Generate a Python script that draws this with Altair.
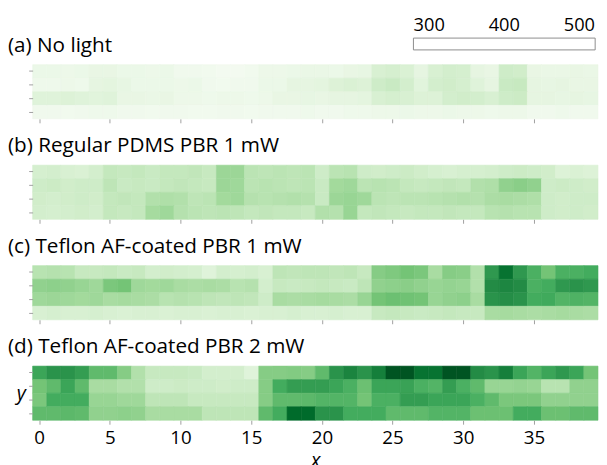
import altair as alt
import pandas as pd

# ---------------- data ----------------
x_cols = list(range(40))
row_ids = [0, 1, 2, 3]  # top row first
x_ticks = [0, 5, 10, 15, 20, 25, 30, 35]
titles = [
    "(a) No light",
    "(b) Regular PDMS PBR 1 mW",
    "(c) Teflon AF-coated PBR 1 mW",
    "(d) Teflon AF-coated PBR 2 mW",
]
cbar_ticks = [300, 400, 500]
cbar_span = [279, 521]

panel_a = [
    [8, 8, 7, 8, 10, 10, 8, 8, 7, 8, 5, 5, 4, 3, 3, 4, 7, 7, 8, 9,
     9, 8, 10, 11, 18, 19, 17, 12, 18, 20, 19, 12, 10, 22, 21, 10, 9, 9, 10, 9],
    [6, 6, 7, 6, 12, 13, 11, 8, 8, 8, 7, 8, 5, 4, 5, 5, 8, 8, 12, 12,
     13, 16, 17, 16, 22, 24, 20, 14, 20, 21, 19, 15, 12, 24, 25, 12, 11, 12, 10, 10],
    [15, 15, 16, 15, 14, 15, 10, 10, 9, 10, 7, 7, 6, 7, 7, 6, 7, 10, 10, 11,
     10, 12, 12, 13, 18, 19, 18, 16, 16, 20, 21, 20, 18, 22, 23, 12, 12, 11, 12, 11],
    [5, 5, 4, 5, 6, 6, 5, 5, 4, 5, 5, 4, 4, 5, 5, 4, 5, 5, 5, 6,
     5, 5, 6, 6, 7, 7, 8, 7, 7, 8, 7, 7, 6, 7, 7, 5, 5, 6, 5, 5],
]
panel_b = [
    [19, 20, 18, 17, 20, 26, 25, 26, 24, 26, 26, 27, 25, 39, 39, 29, 28, 29, 28, 29,
     22, 29, 30, 22, 21, 22, 23, 21, 19, 18, 19, 19, 20, 22, 23, 22, 21, 16, 17, 16],
    [22, 23, 21, 22, 22, 28, 24, 25, 24, 26, 27, 26, 25, 39, 38, 29, 30, 29, 28, 29,
     24, 37, 38, 29, 30, 29, 26, 25, 26, 27, 26, 32, 33, 42, 44, 42, 22, 23, 22, 21],
    [21, 20, 21, 22, 21, 26, 27, 26, 32, 33, 32, 28, 29, 37, 38, 31, 30, 31, 32, 31,
     24, 39, 40, 38, 29, 28, 29, 29, 30, 31, 32, 31, 34, 35, 34, 33, 22, 21, 22, 22],
    [20, 19, 20, 21, 20, 26, 25, 26, 36, 38, 31, 29, 28, 29, 28, 26, 27, 26, 26, 25,
     32, 31, 40, 26, 27, 26, 25, 26, 26, 27, 26, 26, 30, 31, 30, 30, 22, 21, 22, 21],
]
panel_c = [
    [30, 31, 30, 25, 25, 26, 24, 25, 20, 21, 20, 19, 15, 20, 19, 20, 18, 28, 27, 28,
     28, 27, 28, 25, 45, 47, 50, 48, 35, 45, 44, 32, 70, 85, 70, 60, 50, 60, 60, 62],
    [42, 43, 42, 40, 38, 48, 50, 38, 37, 38, 35, 34, 35, 34, 30, 31, 20, 25, 24, 25,
     26, 25, 24, 28, 42, 43, 44, 42, 40, 41, 40, 32, 75, 77, 75, 60, 62, 70, 72, 70],
    [38, 39, 38, 37, 38, 35, 36, 35, 34, 30, 31, 30, 28, 27, 28, 27, 22, 35, 34, 35,
     36, 35, 34, 40, 50, 52, 51, 50, 40, 42, 43, 35, 72, 74, 72, 62, 63, 58, 59, 58],
    [18, 19, 18, 18, 19, 18, 17, 18, 18, 17, 18, 18, 17, 18, 18, 17, 18, 18, 19, 18,
     18, 19, 18, 18, 25, 26, 25, 24, 25, 26, 25, 25, 35, 36, 35, 34, 35, 36, 35, 34],
]
panel_d = [
    [65, 72, 72, 68, 55, 55, 45, 32, 25, 25, 25, 24, 20, 20, 20, 15, 45, 45, 46, 45,
     55, 72, 78, 72, 80, 95, 95, 85, 85, 95, 95, 75, 72, 80, 65, 58, 65, 70, 65, 50],
    [50, 55, 65, 55, 35, 35, 32, 32, 22, 22, 23, 22, 22, 21, 22, 22, 45, 62, 68, 68,
     68, 65, 60, 52, 65, 65, 66, 60, 58, 68, 60, 55, 40, 40, 41, 40, 30, 30, 42, 42],
    [48, 62, 62, 62, 40, 40, 38, 38, 28, 28, 28, 25, 25, 25, 25, 25, 45, 55, 55, 56,
     58, 58, 58, 50, 60, 60, 68, 68, 65, 65, 65, 60, 55, 48, 48, 48, 42, 42, 42, 42],
    [55, 55, 56, 55, 42, 42, 43, 42, 35, 35, 35, 35, 28, 28, 28, 28, 55, 62, 88, 88,
     72, 72, 62, 62, 62, 55, 55, 55, 58, 58, 58, 52, 52, 52, 62, 62, 52, 52, 55, 55],
]
panels = [panel_a, panel_b, panel_c, panel_d]

# ---------------- styling ----------------
FONT = "Open Sans"
W, H = 574, 55
green_stops = [0, 12.5, 25, 37.5, 50, 62.5, 75, 87.5, 100]
green_colors = ["#f7fcf5", "#e5f5e0", "#c7e9c0", "#a1d99b", "#74c476",
                "#41ab5d", "#238b45", "#006d2c", "#00441b"]
color_scale = alt.Scale(domain=green_stops, range=green_colors, interpolate="rgb")


def long_table(panel):
    rows = []
    for r, vals in zip(row_ids, panel):
        for c, v in zip(x_cols, vals):
            rows.append({"col": c, "row": r, "value": v})
    return pd.DataFrame(rows)


def heat(panel, last):
    x_axis = alt.Axis(
        values=x_ticks, labelAngle=0, labels=last, ticks=True,
        title="x" if last else None, titlePadding=3,
    )
    y_axis = alt.Axis(
        labels=False, ticks=True, title="y" if last else None,
        titleAngle=0, titleAlign="right", titleBaseline="middle",
        titlePadding=3,
    )
    return alt.Chart(long_table(panel)).mark_rect().encode(
        x=alt.X("col:O", axis=x_axis, scale=alt.Scale(paddingInner=0, paddingOuter=0)),
        y=alt.Y("row:O", axis=y_axis, scale=alt.Scale(paddingInner=0, paddingOuter=0)),
        color=alt.Color("value:Q", scale=color_scale, legend=None),
        stroke=alt.Stroke("value:Q", scale=color_scale, legend=None),
        strokeWidth=alt.value(0.6),
    )


def title_mark(text):
    return alt.Chart(pd.DataFrame({"t": [text]})).mark_text(
        align="left", baseline="alphabetic", font=FONT, fontSize=21, color="black"
    ).encode(text="t:N", x=alt.value(-25), y=alt.value(-13))


cbar_scale = alt.Scale(domain=[-228.1, 524.8], nice=False, zero=False)
cbar_rect = alt.Chart(pd.DataFrame({"lo": [cbar_span[0]], "hi": [cbar_span[1]]})).mark_rect(
    fill="white", stroke="#8c8c8c", strokeWidth=1
).encode(
    x=alt.X("lo:Q", scale=cbar_scale, axis=None),
    x2="hi:Q",
    y=alt.value(-27),
    y2=alt.value(-15),
)
cbar_text = alt.Chart(pd.DataFrame({"v": cbar_ticks})).mark_text(
    font=FONT, fontSize=18.5, color="black", baseline="middle"
).encode(
    x=alt.X("v:Q", scale=cbar_scale, axis=None),
    text=alt.Text("v:Q"),
    y=alt.value(-40),
)
cbar = alt.layer(cbar_rect, cbar_text)

charts = []
for i, (panel, t) in enumerate(zip(panels, titles)):
    last = i == len(panels) - 1
    layers = [heat(panel, last), title_mark(t)]
    if i == 0:
        ch = alt.layer(*layers, cbar).resolve_scale(x="independent")
    else:
        ch = alt.layer(*layers)
    charts.append(ch.properties(width=W, height=H))

chart = alt.vconcat(*charts, spacing=12).properties(
    padding={"top": 5, "left": 0, "right": 0, "bottom": 0}
).configure_view(stroke=None).configure_axis(
    labelFont=FONT, labelFontSize=19, labelColor="black", labelPadding=5,
    tickColor="#a0a0a0", tickSize=4, tickWidth=1, domain=False, grid=False,
    titleFont=FONT, titleFontSize=20, titleFontStyle="italic",
    titleFontWeight="normal", titleColor="black",
)

chart.save("out.html", embed_options={"renderer": "svg", "actions": False})
